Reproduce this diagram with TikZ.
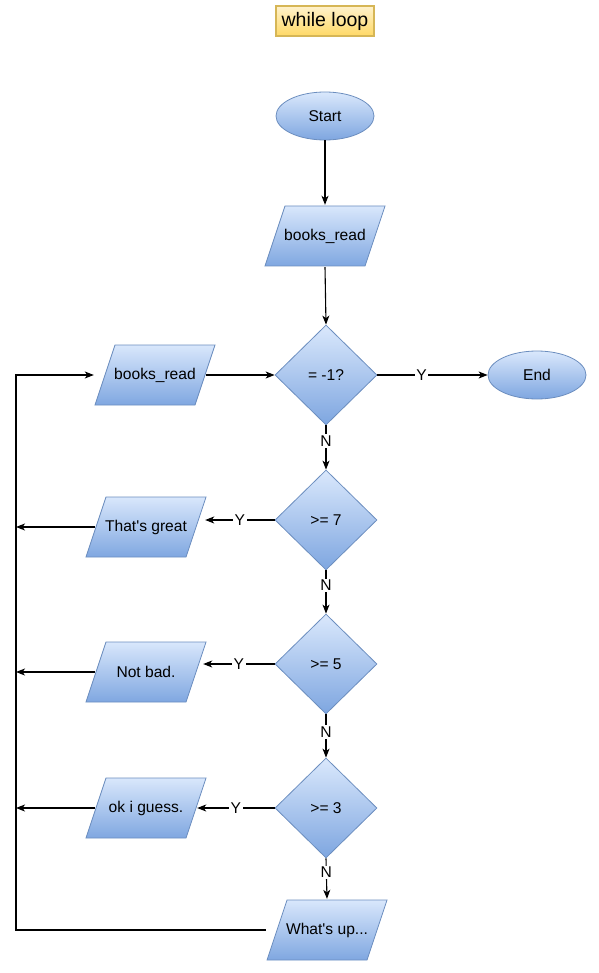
\documentclass[tikz,border=0pt]{standalone}
\usepackage{fontspec}
\setmainfont{Liberation Sans}
\usetikzlibrary{shapes.geometric,arrows.meta,calc}
\definecolor{bluetop}{HTML}{DAE8FC}
\definecolor{bluebot}{HTML}{7EA6E0}
\definecolor{blueline}{HTML}{6C8EBF}
\definecolor{yeltop}{HTML}{FFF2CC}
\definecolor{yelbot}{HTML}{FFD966}
\definecolor{yelline}{HTML}{D6B656}
\tikzset{
  base/.style={draw=blueline, line width=0.8pt, top color=bluetop, bottom color=bluebot, font=\fontsize{15.6}{18}\selectfont, text=black, inner sep=0pt},
  term/.style={base, ellipse, minimum width=98, minimum height=48},
  io/.style={rectangle, minimum width=122, minimum height=62, inner sep=0pt, font=\fontsize{15.6}{18}\selectfont, text=black,
    path picture={
      \shade[top color=bluetop, bottom color=bluebot, draw=blueline, line width=0.8pt]
        ($(path picture bounding box.south west)+(1,-1)$) --
        ($(path picture bounding box.south east)+(-21,-1)$) --
        ($(path picture bounding box.north east)+(-1,1)$) --
        ($(path picture bounding box.north west)+(21,1)$) -- cycle;
    }},
  cond/.style={base, diamond, minimum width=102, minimum height=100},
  arr/.style={draw=black, line width=1.1pt, -{Stealth[length=9pt,width=7pt,inset=2.5pt]}},
  lbl/.style={fill=white, inner sep=1.5pt, font=\fontsize{15.6}{18}\selectfont, text=black},
  titlebox/.style={draw=yelline, line width=2pt, top color=yeltop, bottom color=yelbot, minimum width=98, minimum height=30, inner sep=0pt, font=\fontsize{19.5}{22}\selectfont}
}
\begin{document}
\begin{tikzpicture}[x=1pt,y=-1pt]
\useasboundingbox (0,0) rectangle (598,973);
\node[titlebox] (title) at (325,21) {while loop};
\node[term] (start) at (325,116) {Start};
\node[io] (p1) at (325,236) {books\_read};
\node[cond] (d1) at (326,375) {= -1?};
\node[term] (end) at (537,375) {End};
\node[io] (p2) at (155,375) {books\_read};
\node[cond] (d2) at (326,520) {>= 7};
\node[io] (p3) at (146,527) {That\textquotesingle s great};
\node[cond] (d3) at (326,664) {>= 5};
\node[io] (p4) at (146,672) {Not bad.};
\node[cond] (d4) at (326,808) {>= 3};
\node[io] (p5) at (146,808) {ok i guess.};
\node[io] (p6) at (327,930) {What\textquotesingle s up...};
\coordinate (L) at (16,375);

\draw[arr] (start.south) -- (p1.north);
\draw[arr] (p1.south) -- (d1.north);
\draw[arr] (d1.east) -- node[lbl, pos=0.4] {Y} (end.west);
\draw[arr] ($(p2.east)+(-10,0)$) -- (d1.west);
\draw[arr] (d1.south) -- node[lbl, pos=0.35] {N} (d2.north);
\draw[arr] (d2.south) -- node[lbl, pos=0.35] {N} (d3.north);
\draw[arr] (d3.south) -- node[lbl, pos=0.4] {N} (d4.north);
\draw[arr] (d4.south) -- node[lbl, pos=0.35] {N} (p6.north);
\draw[arr] (d2.west) -- node[lbl] {Y} ($(d2.west -| p3.east)+(-2,0)$);
\draw[arr] (d3.west) -- node[lbl] {Y} ($(d3.west -| p4.east)+(-4,0)$);
\draw[arr] (d4.west) -- node[lbl] {Y} ($(d4.west -| p5.east)+(-10,0)$);
\draw[arr] ($(p3.west)+(10,0)$) -- (p3.west -| L);
\draw[arr] ($(p4.west)+(10,0)$) -- (p4.west -| L);
\draw[arr] ($(p5.west)+(10,0)$) -- (p5.west -| L);
\draw[arr] (p6.west) -| (L) -- (p2.west);
\end{tikzpicture}
\end{document}
